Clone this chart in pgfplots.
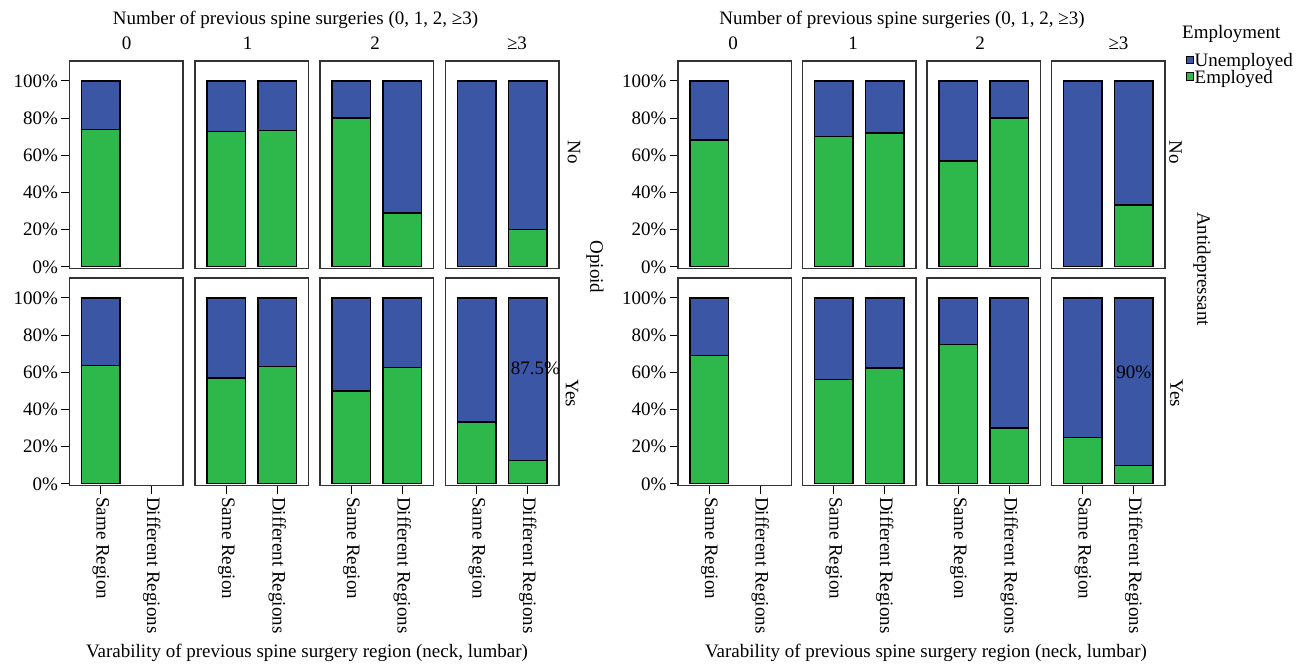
\documentclass[border=0pt]{standalone}
\usepackage{fontspec}
\setmainfont{Liberation Serif}
\usepackage{pgfplots}
\pgfplotsset{compat=1.18}
\definecolor{unempB}{RGB}{60,86,166}
\definecolor{empG}{RGB}{46,183,74}
\newcommand\ff{\fontsize{19bp}{22bp}\selectfont}
\pgfplotsset{
  facet/.style={
    ybar stacked, scale only axis, anchor=south west,
    width=113.5bp, height=207.7bp,
    xmin=-0.614, xmax=1.611, ymin=-1, ymax=110.7,
    bar width=38.5bp, clip=false,
    axis line style={black!80, line width=1.3bp},
    xtick=\empty, ytick=\empty,
    xtick pos=bottom, ytick pos=left,
    tick align=outside, major tick length=8bp,
    tick style={black, line width=1.1bp},
    tick label style={font=\ff},
  },
  yfirst/.style={ytick={0,20,40,60,80,100},
    yticklabels={0\%,20\%,40\%,60\%,80\%,100\%}},
  xbottom/.style={xtick={0,1},
    xticklabels={Same Region,Different Regions},
    x tick label style={rotate=-90, anchor=west}},
  emp/.style={fill=empG, draw=black, line width=1.3bp},
  unemp/.style={fill=unempB, draw=black, line width=1.3bp},
}
\begin{document}
\begin{tikzpicture}
\path[use as bounding box] (0,0) rectangle (1305bp,-665bp);
% ================= LEFT PANEL: Opioid =================
% Opioid = No
\begin{axis}[facet, yfirst, at={(69.5bp,-268.7bp)}]
\addplot[emp] coordinates {(0,74) (1,0)};
\addplot[unemp] coordinates {(0,26) (1,0)};
\end{axis}
\begin{axis}[facet, at={(195bp,-268.7bp)}]
\addplot[emp] coordinates {(0,72.7) (1,73.5)};
\addplot[unemp] coordinates {(0,27.3) (1,26.5)};
\end{axis}
\begin{axis}[facet, at={(320bp,-268.7bp)}]
\addplot[emp] coordinates {(0,80) (1,29)};
\addplot[unemp] coordinates {(0,20) (1,71)};
\end{axis}
\begin{axis}[facet, at={(445.5bp,-268.7bp)}]
\addplot[emp] coordinates {(0,0) (1,20)};
\addplot[unemp] coordinates {(0,100) (1,80)};
\end{axis}
% Opioid = Yes
\begin{axis}[facet, yfirst, xbottom, at={(69.5bp,-485.7bp)}]
\addplot[emp] coordinates {(0,63.6) (1,0)};
\addplot[unemp] coordinates {(0,36.4) (1,0)};
\end{axis}
\begin{axis}[facet, xbottom, at={(195bp,-485.7bp)}]
\addplot[emp] coordinates {(0,57) (1,63)};
\addplot[unemp] coordinates {(0,43) (1,37)};
\end{axis}
\begin{axis}[facet, xbottom, at={(320bp,-485.7bp)}]
\addplot[emp] coordinates {(0,50) (1,62.5)};
\addplot[unemp] coordinates {(0,50) (1,37.5)};
\end{axis}
\begin{axis}[facet, xbottom, at={(445.5bp,-485.7bp)}]
\addplot[emp] coordinates {(0,33.3) (1,12.5)};
\addplot[unemp] coordinates {(0,66.7) (1,87.5)};
\coordinate (annA) at (axis cs:1.15,62.3);
\end{axis}
\node[font=\ff, inner sep=0pt] at (annA) {87.5\%};
% ================= RIGHT PANEL: Antidepressant =================
% Antidepressant = No
\begin{axis}[facet, yfirst, at={(678bp,-268.7bp)}]
\addplot[emp] coordinates {(0,68.2) (1,0)};
\addplot[unemp] coordinates {(0,31.8) (1,0)};
\end{axis}
\begin{axis}[facet, at={(802.5bp,-268.7bp)}]
\addplot[emp] coordinates {(0,70) (1,72)};
\addplot[unemp] coordinates {(0,30) (1,28)};
\end{axis}
\begin{axis}[facet, at={(927bp,-268.7bp)}]
\addplot[emp] coordinates {(0,57) (1,80)};
\addplot[unemp] coordinates {(0,43) (1,20)};
\end{axis}
\begin{axis}[facet, at={(1051.5bp,-268.7bp)},
  reverse legend, legend cell align=left,
  legend image code/.code={\draw[#1, line width=0.8bp] (0bp,-2.5bp) rectangle (7.5bp,5bp);},
  legend style={at={(1.18,1.04)}, anchor=north west, draw=none, fill=none,
    font=\ff, inner sep=0pt, row sep=0.5bp,
    nodes={inner sep=0.8bp}}]
\addplot[emp] coordinates {(0,0) (1,33.3)};
\addplot[unemp] coordinates {(0,100) (1,66.7)};
\legend{Employed,Unemployed}
\end{axis}
% Antidepressant = Yes
\begin{axis}[facet, yfirst, xbottom, at={(678bp,-485.7bp)}]
\addplot[emp] coordinates {(0,69.2) (1,0)};
\addplot[unemp] coordinates {(0,30.8) (1,0)};
\end{axis}
\begin{axis}[facet, xbottom, at={(802.5bp,-485.7bp)}]
\addplot[emp] coordinates {(0,56) (1,62.3)};
\addplot[unemp] coordinates {(0,44) (1,37.7)};
\end{axis}
\begin{axis}[facet, xbottom, at={(927bp,-485.7bp)}]
\addplot[emp] coordinates {(0,75) (1,30)};
\addplot[unemp] coordinates {(0,25) (1,70)};
\end{axis}
\begin{axis}[facet, xbottom, at={(1051.5bp,-485.7bp)}]
\addplot[emp] coordinates {(0,25) (1,10)};
\addplot[unemp] coordinates {(0,75) (1,90)};
\coordinate (annB) at (axis cs:1.0,60.1);
\end{axis}
\node[font=\ff, inner sep=0pt] at (annB) {90\%};
% ================= Text =================
\begin{scope}[every node/.style={font=\ff, inner sep=0pt}]
\node at (295.5bp,-20bp) {Number of previous spine surgeries (0, 1, 2, ≥3)};
\node at (902bp,-20bp) {Number of previous spine surgeries (0, 1, 2, ≥3)};
\node at (126.5bp,-43bp) {0};
\node at (247.5bp,-43bp) {1};
\node at (375bp,-43bp) {2};
\node at (517bp,-43bp) {≥3};
\node at (733bp,-43bp) {0};
\node at (853bp,-43bp) {1};
\node at (980bp,-43bp) {2};
\node at (1118.5bp,-43bp) {≥3};
\node[rotate=-90] at (574bp,-152bp) {No};
\node[rotate=-90] at (572bp,-393bp) {Yes};
\node[rotate=-90] at (595bp,-267bp) {Opioid};
\node[rotate=-90] at (1175.5bp,-152bp) {No};
\node[rotate=-90] at (1176.5bp,-393bp) {Yes};
\node[rotate=-90] at (1202bp,-269bp) {Antidepressant};
\node at (307bp,-653bp) {Varability of previous spine surgery region (neck, lumbar)};
\node at (926bp,-653bp) {Varability of previous spine surgery region (neck, lumbar)};
\node[anchor=west] at (1182bp,-34bp) {Employment};
\end{scope}
\end{tikzpicture}
\end{document}
